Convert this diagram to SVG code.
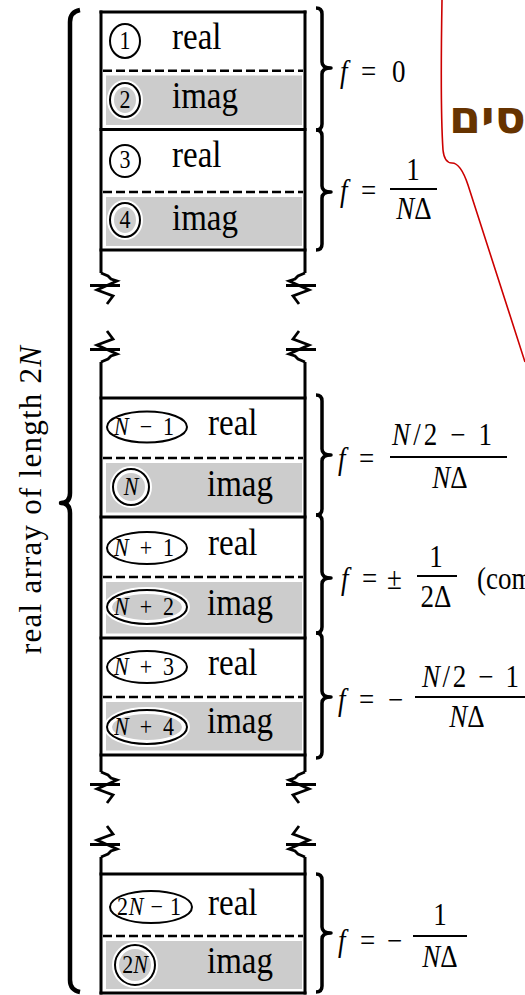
<svg xmlns="http://www.w3.org/2000/svg" xmlns:xlink="http://www.w3.org/1999/xlink" width="525" height="995" viewBox="0 0 525 995">
<style>
text{font-family:"Liberation Serif","Times New Roman",serif;fill:#000}
.w{font-size:33px}
.n{font-size:22px}
.eq{font-size:27px}
.it{font-style:italic}
.ln{stroke:#000;stroke-width:3;fill:none}
.dash{stroke:#000;stroke-width:2.5;stroke-dasharray:9 4;fill:none}
.gray{fill:#cccccc}
.ring{fill:#fff;stroke:#000;stroke-width:2}
.halo{fill:#fff;stroke:#fff;stroke-width:6}
.inner{fill:#cccccc}
.brace{stroke:#000;stroke-width:3.5;fill:none;stroke-linejoin:round}
.bar{stroke:#000;stroke-width:2.2}
</style>
<defs>
<path id="brk" d="M0,0 L7,3 L10,6 L16,8 L-4,17 L12,23 L6,31 M-11,12.5 H19" fill="none" stroke="#000" stroke-width="2.8"/>
</defs>
<rect width="525" height="995" fill="#fff"/>

<g id="callout">
<path d="M442,0 C441,60 441,120 443,150 C444,160 447,163 452,163 C458,163 463,170 468,185 L525,362" fill="none" stroke="#cc0000" stroke-width="1.6"/>
<text x="449" y="133" direction="ltr" unicode-bidi="bidi-override" style="font-family:'DejaVu Sans',sans-serif;font-weight:bold;font-size:46px;fill:#663300">םיס</text>
</g>

<g id="length-brace">
<path class="brace" style="stroke-width:4.5" d="M80,10 Q70,12 70,22 V493 Q70,503 61,503 Q70,503 70,513 V980 Q70,990 80,992"/>
<text transform="translate(41,500) rotate(-90)" text-anchor="middle" style="font-size:31px" textLength="308">real array of length 2<tspan class="it">N</tspan></text>
</g>

<g id="pair-1">
<rect class="gray" x="106" y="75.5" width="196" height="49.5"/>
<line class="dash" x1="103" y1="70.7" x2="303" y2="70.7"/>
<ellipse class="ring" cx="125" cy="41" rx="15" ry="17"/>
<text class="n" text-anchor="middle" transform="translate(125,49) scale(1,1.15)">1</text>
<text class="w" transform="translate(172,49) scale(1,1.15)">real</text>
<ellipse class="halo" cx="125" cy="100" rx="15" ry="17"/>
<ellipse class="ring" cx="125" cy="100" rx="15" ry="17"/>
<ellipse class="inner" cx="125" cy="100" rx="11" ry="13"/>
<text class="n" text-anchor="middle" transform="translate(125,108) scale(1,1.15)">2</text>
<text class="w" transform="translate(172,108) scale(1,1.15)">imag</text>
</g>

<g id="pair-2">
<rect class="gray" x="106" y="197" width="196" height="49"/>
<line class="dash" x1="103" y1="192" x2="303" y2="192"/>
<ellipse class="ring" cx="125" cy="161" rx="15" ry="16"/>
<text class="n" text-anchor="middle" transform="translate(125,168) scale(1,1.15)">3</text>
<text class="w" transform="translate(172,167) scale(1,1.15)">real</text>
<ellipse class="halo" cx="125" cy="220" rx="15" ry="17"/>
<ellipse class="ring" cx="125" cy="220" rx="15" ry="17"/>
<ellipse class="inner" cx="125" cy="220" rx="11" ry="13"/>
<text class="n" text-anchor="middle" transform="translate(125,228) scale(1,1.15)">4</text>
<text class="w" transform="translate(172,230) scale(1,1.15)">imag</text>
</g>

<g id="pair-3">
<rect class="gray" x="106" y="463" width="196" height="49.5"/>
<line class="dash" x1="103" y1="458" x2="303" y2="458"/>
<ellipse class="ring" cx="147" cy="427" rx="40" ry="15.5"/>
<text class="n" transform="translate(114,435) scale(1,1.15)" textLength="60"><tspan class="it">N</tspan> − 1</text>
<text class="w" transform="translate(208,435) scale(1,1.15)">real</text>
<ellipse class="halo" cx="131" cy="487" rx="18" ry="18"/>
<ellipse class="ring" cx="131" cy="487" rx="18" ry="18"/>
<ellipse class="inner" cx="131" cy="487" rx="14" ry="14"/>
<text class="n it" text-anchor="middle" transform="translate(131,495) scale(1,1.15)">N</text>
<text class="w" transform="translate(207,496) scale(1,1.15)">imag</text>
</g>

<g id="pair-4">
<rect class="gray" x="106" y="582" width="196" height="51.5"/>
<line class="dash" x1="103" y1="577" x2="303" y2="577"/>
<ellipse class="ring" cx="147" cy="548" rx="40" ry="16"/>
<text class="n" transform="translate(114,556) scale(1,1.15)" textLength="60"><tspan class="it">N</tspan> + 1</text>
<text class="w" transform="translate(208,555) scale(1,1.15)">real</text>
<ellipse class="halo" cx="147" cy="607" rx="40" ry="17"/>
<ellipse class="ring" cx="147" cy="607" rx="40" ry="17"/>
<ellipse class="inner" cx="147" cy="607" rx="35" ry="13"/>
<text class="n" transform="translate(114,615) scale(1,1.15)" textLength="60"><tspan class="it">N</tspan> + 2</text>
<text class="w" transform="translate(207,615) scale(1,1.15)">imag</text>
</g>

<g id="pair-5">
<rect class="gray" x="106" y="702" width="196" height="48.5"/>
<line class="dash" x1="103" y1="697" x2="303" y2="697"/>
<ellipse class="ring" cx="147" cy="667" rx="40" ry="16"/>
<text class="n" transform="translate(114,675) scale(1,1.15)" textLength="60"><tspan class="it">N</tspan> + 3</text>
<text class="w" transform="translate(208,675) scale(1,1.15)">real</text>
<ellipse class="halo" cx="147" cy="727" rx="40" ry="17"/>
<ellipse class="ring" cx="147" cy="727" rx="40" ry="17"/>
<ellipse class="inner" cx="147" cy="727" rx="35" ry="13"/>
<text class="n" transform="translate(114,735) scale(1,1.15)" textLength="60"><tspan class="it">N</tspan> + 4</text>
<text class="w" transform="translate(207,733) scale(1,1.15)">imag</text>
</g>

<g id="pair-6">
<rect class="gray" x="106" y="941" width="196" height="48"/>
<line class="dash" x1="103" y1="936" x2="303" y2="936"/>
<ellipse class="ring" cx="151" cy="907" rx="41" ry="16"/>
<text class="n" transform="translate(117,915) scale(1,1.15)" textLength="64">2<tspan class="it">N</tspan> − 1</text>
<text class="w" transform="translate(208,915) scale(1,1.15)">real</text>
<ellipse class="halo" cx="135" cy="965" rx="20" ry="20"/>
<ellipse class="ring" cx="135" cy="965" rx="20" ry="20"/>
<ellipse class="inner" cx="135" cy="965" rx="16" ry="16"/>
<text class="n" text-anchor="middle" transform="translate(135,973) scale(1,1.15)">2<tspan class="it">N</tspan></text>
<text class="w" transform="translate(207,973) scale(1,1.15)">imag</text>
</g>

<g id="column">
<path class="ln" d="M101,10.5 V273 M305,10.5 V273 M101,362 V772 M305,362 V772 M101,857 V994.5 M305,857 V994.5"/>
<path class="ln" d="M99.5,12 H306.5 M99.5,129.5 H306.5 M99.5,250 H306.5 M99.5,398 H306.5 M99.5,517 H306.5 M99.5,638 H306.5 M99.5,755 H306.5 M99.5,874 H306.5 M99.5,993 H306.5"/>
<use xlink:href="#brk" transform="translate(101,273)"/>
<use xlink:href="#brk" transform="translate(305,273) scale(-1,1)"/>
<use xlink:href="#brk" transform="translate(101,362) scale(1,-1)"/>
<use xlink:href="#brk" transform="translate(305,362) scale(-1,-1)"/>
<use xlink:href="#brk" transform="translate(101,772)"/>
<use xlink:href="#brk" transform="translate(305,772) scale(-1,1)"/>
<use xlink:href="#brk" transform="translate(101,857) scale(1,-1)"/>
<use xlink:href="#brk" transform="translate(305,857) scale(-1,-1)"/>
</g>

<g id="braces">
<path class="brace" d="M316,8 Q322,8 322,14 V62 Q322,68 331,68 Q322,68 322,74 V124 Q322,130 316,130"/>
<path class="brace" d="M316,130 Q322,130 322,136 V186 Q322,192 331,192 Q322,192 322,198 V244 Q322,250 316,250"/>
<path class="brace" d="M316,395 Q322,395 322,401 V449 Q322,455 331,455 Q322,455 322,461 V509 Q322,515 316,515"/>
<path class="brace" d="M316,515 Q322,515 322,521 V572 Q322,578 331,578 Q322,578 322,584 V627 Q322,633 316,633"/>
<path class="brace" d="M316,633 Q322,633 322,639 V691 Q322,697 331,697 Q322,697 322,703 V752 Q322,758 316,758"/>
<path class="brace" d="M316,874 Q322,874 322,880 V927 Q322,933 331,933 Q322,933 322,939 V986 Q322,992 316,992"/>
</g>

<g id="freq-1">
<text class="eq it" transform="translate(340,82) scale(1,1.15)">f</text>
<text class="eq" transform="translate(361,82) scale(1,1.15)">=</text>
<text class="eq" transform="translate(392,82) scale(1,1.15)">0</text>
</g>
<g id="freq-2">
<text class="eq it" transform="translate(340,201) scale(1,1.15)">f</text>
<text class="eq" transform="translate(361,201) scale(1,1.15)">=</text>
<line class="bar" x1="390" y1="189" x2="437" y2="189"/>
<text class="eq" text-anchor="middle" transform="translate(413,180) scale(1,1.15)">1</text>
<text class="eq" text-anchor="middle" transform="translate(414,219) scale(1,1.15)"><tspan class="it">N</tspan>Δ</text>
</g>
<g id="freq-3">
<text class="eq it" transform="translate(338,469) scale(1,1.15)">f</text>
<text class="eq" transform="translate(359,469) scale(1,1.15)">=</text>
<line class="bar" x1="390" y1="457" x2="507" y2="457"/>
<text class="eq" transform="translate(392,445) scale(1,1.15)" textLength="100"><tspan class="it">N</tspan>/2 − 1</text>
<text class="eq" text-anchor="middle" transform="translate(450,488) scale(1,1.15)"><tspan class="it">N</tspan>Δ</text>
</g>
<g id="freq-4">
<text class="eq it" transform="translate(341,589) scale(1,1.15)">f</text>
<text class="eq" transform="translate(362,589) scale(1,1.15)">=</text>
<text class="eq" transform="translate(387,589) scale(1,1.15)">±</text>
<line class="bar" x1="417" y1="576" x2="457" y2="576"/>
<text class="eq" text-anchor="middle" transform="translate(436,567) scale(1,1.15)">1</text>
<text class="eq" text-anchor="middle" transform="translate(436,607) scale(1,1.15)">2Δ</text>
<text class="eq" transform="translate(477,589) scale(1,1.15)">(combination)</text>
</g>
<g id="freq-5">
<text class="eq it" transform="translate(338,710) scale(1,1.15)">f</text>
<text class="eq" transform="translate(359,710) scale(1,1.15)">=</text>
<text class="eq" transform="translate(388,710) scale(1,1.15)">−</text>
<line class="bar" x1="415" y1="697" x2="535" y2="697"/>
<text class="eq" transform="translate(422,687) scale(1,1.15)" textLength="97"><tspan class="it">N</tspan>/2 − 1</text>
<text class="eq" text-anchor="middle" transform="translate(467,727) scale(1,1.15)"><tspan class="it">N</tspan>Δ</text>
</g>
<g id="freq-6">
<text class="eq it" transform="translate(338,951) scale(1,1.15)">f</text>
<text class="eq" transform="translate(360,951) scale(1,1.15)">=</text>
<text class="eq" transform="translate(387,951) scale(1,1.15)">−</text>
<line class="bar" x1="413" y1="936" x2="467" y2="936"/>
<text class="eq" text-anchor="middle" transform="translate(440,925) scale(1,1.15)">1</text>
<text class="eq" text-anchor="middle" transform="translate(440,967) scale(1,1.15)"><tspan class="it">N</tspan>Δ</text>
</g>
</svg>
